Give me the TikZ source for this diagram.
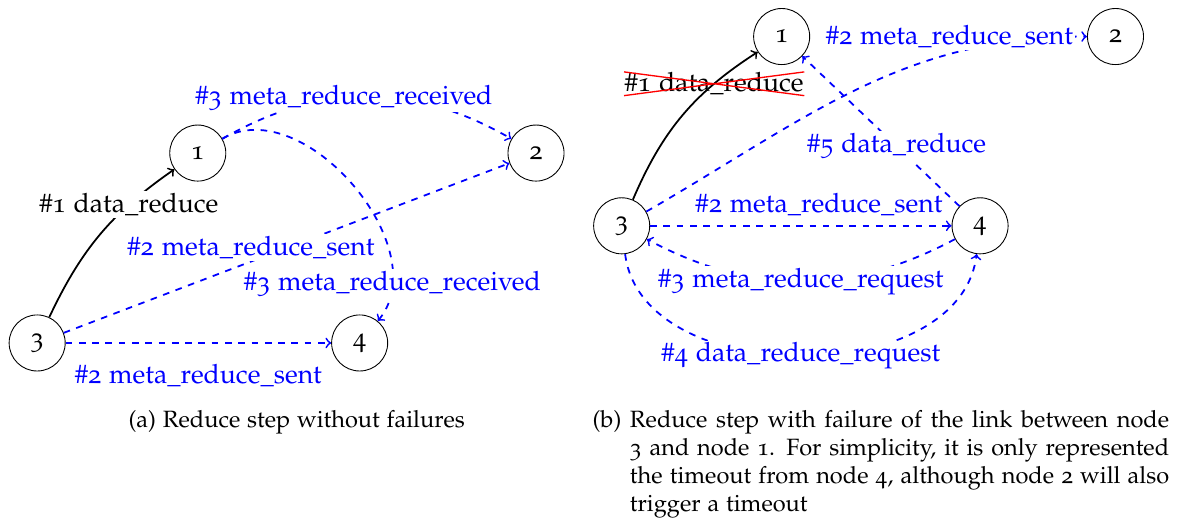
\documentclass[tikz,border=0pt]{standalone}
\usepackage[T1]{fontenc}
\usepackage[osf]{mathpazo}
\usetikzlibrary{shapes.misc}
\begin{document}
\begin{tikzpicture}[>=to, line join=round,
	state/.style={draw, circle, thin, minimum size=0.89cm, inner sep=0pt, font=\large},
	msg/.style={->, thick, dashed, blue},
	lbl/.style={fill=white, inner sep=1pt},
	capt/.style={font=\fontsize{10.65pt}{12.6pt}\selectfont, inner sep=0pt},
	every node/.append style={font=\large}]
	\useasboundingbox (0,0) rectangle (18.75,8.33);
	% (a) without failures
	\node[state] (l1) at (3.14,5.90) {1};
	\node[state] (l2) at (8.51,5.90) {2};
	\node[state] (l3) at (0.59,2.885) {3};
	\node[state] (l4) at (5.71,2.885) {4};
	\draw[->, thick] (l3) to[bend left=15] node[lbl, pos=.72] {\#1 data\_reduce} (l1);
	\draw[msg] (l3) -- node[lbl, pos=.42, above] {\#2 meta\_reduce\_sent} (l2);
	\draw[msg] (l3) -- node[below=6pt] {\#2 meta\_reduce\_sent} (l4);
	\draw[msg] (l1) to[bend left=30] node[lbl, pos=.42] {\#3 meta\_reduce\_received} (l2);
	\draw[msg] (l1) to[bend left=80] node[lbl, pos=.85] {\#3 meta\_reduce\_received} (l4);
	% (b) link 3-1 fails
	\node[state] (r1) at (12.41,7.75) {1};
	\node[state] (r2) at (17.71,7.75) {2};
	\node[state] (r3) at (9.87,4.745) {3};
	\node[state] (r4) at (15.56,4.745) {4};
	\draw[->, thick] (r3) to[bend left=17] node[pos=.74, cross out, draw=red, semithick, inner sep=0pt] {\#1 data\_reduce} (r1);
	\draw[msg] (r3) to[out=30, in=180] node[lbl, pos=.98, anchor=east] {\#2 meta\_reduce\_sent} (r2);
	\draw[msg] (r4) -- node[lbl, pos=.4] {\#5 data\_reduce} (r1);
	\draw[msg] (r3) -- node[above=1pt, pos=.56] {\#2 meta\_reduce\_sent} (r4);
	\draw[msg] (r4) to[bend left=28] node[lbl] {\#3 meta\_reduce\_request} (r3);
	\draw[msg] (r3) to[bend right=83] node[lbl] {\#4 data\_reduce\_request} (r4);
	% captions
	\node[anchor=north, capt] (capa) at (4.71,1.82) {(a) Reduce step without failures};
	\node[anchor=north west, capt, text width=8.56cm, align=justify] (capb) at (9.995,1.82) {Reduce step with failure of the link between node 3 and node 1. For simplicity, it is only represented the timeout from node 4, although node 2 will also trigger a timeout};
	\node[anchor=north east, capt] (capbtag) at ([xshift=-3.5pt]capb.north west) {(b)};
\end{tikzpicture}
\end{document}
